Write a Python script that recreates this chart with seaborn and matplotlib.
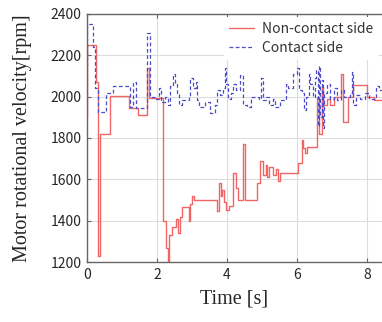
import matplotlib
matplotlib.use("Agg")
import matplotlib.pyplot as plt
import seaborn as sns
import pandas as pd

# Non-contact side (step data)
red_t = [0, 0.01, 0.27, 0.31, 0.37, 0.66, 1.2, 1.45, 1.7, 1.76, 2.17, 2.25, 2.3,
         2.34, 2.43, 2.55, 2.6, 2.65, 2.72, 2.9, 2.94, 3.0, 3.05, 3.7, 3.78, 3.82,
         3.86, 3.92, 3.98, 4.05, 4.17, 4.25, 4.3, 4.45, 4.5, 4.85, 4.95, 5.02, 5.1,
         5.15, 5.2, 5.3, 5.4, 5.45, 5.5, 6.03, 6.13, 6.17, 6.22, 6.28, 6.57, 6.62,
         6.7, 6.75, 6.85, 6.95, 7.05, 7.25, 7.3, 7.45, 7.6, 8.0, 8.2, 8.45]
red_v = [1900, 2250, 2070, 1230, 1820, 2005, 1945, 1910, 2140, 1995, 1400, 1270, 1200,
         1330, 1370, 1410, 1340, 1420, 1465, 1400, 1480, 1520, 1500, 1445, 1580, 1520,
         1550, 1490, 1450, 1470, 1630, 1560, 1500, 1770, 1500, 1580, 1690, 1620, 1670,
         1610, 1660, 1620, 1650, 1590, 1630, 1680, 1790, 1750, 1725, 1757, 2000, 1820,
         2040, 1960, 1990, 1960, 2000, 2110, 1875, 2000, 2055, 2000, 1985, 1985]

# Contact side
blue_t = [0, 0.01, 0.18, 0.24, 0.3, 0.55, 0.75, 1.23, 1.32, 1.4, 1.7, 1.8, 1.97,
          2.05, 2.12, 2.23, 2.3, 2.38, 2.47, 2.52, 2.57, 2.63, 2.7, 2.9, 2.95, 3.02,
          3.1, 3.13, 3.2, 3.37, 3.5, 3.66, 3.72, 3.8, 3.88, 3.93, 3.97, 4.02, 4.1,
          4.18, 4.27, 4.38, 4.45, 4.56, 4.68, 4.9, 4.98, 5.03, 5.1, 5.2, 5.3, 5.38,
          5.5, 5.68, 5.75, 5.88, 6.0, 6.05, 6.13, 6.2, 6.27, 6.33, 6.38, 6.45, 6.5,
          6.55, 6.6, 6.63, 6.66, 6.7, 6.73, 6.77, 6.85, 6.95, 7.05, 7.15, 7.25, 7.35,
          7.5, 7.57, 7.6, 7.68, 7.8, 7.95, 8.05, 8.25, 8.35, 8.45]
blue_v = [2150, 2350, 2240, 2040, 1925, 2020, 2050, 1950, 2070, 1945, 2310, 2000, 1990,
          2040, 1975, 2000, 1960, 2050, 2110, 2060, 2020, 1960, 1985, 2000, 2090, 2040,
          2070, 1985, 1950, 1975, 1920, 1960, 2030, 2010, 2040, 2140, 2060, 1990, 2020,
          2060, 2030, 2105, 1960, 1950, 2000, 1990, 2090, 1985, 2000, 1960, 1990, 1950,
          1985, 2060, 2040, 2110, 2140, 2030, 2020, 1935, 2000, 2110, 2060, 2000, 2090,
          2130, 1860, 2150, 1900, 2080, 1850, 2020, 2060, 1990, 2040, 1985, 2030, 2000,
          2020, 2120, 1960, 2010, 1990, 2020, 1990, 2050, 2030, 2030]

x_ticks = [0, 2, 4, 6, 8]
y_ticks = [1200, 1400, 1600, 1800, 2000, 2200, 2400]

sns.set_style("whitegrid", {"grid.color": "#dcdcdc", "axes.edgecolor": "#666666"})
plt.rcParams['font.family'] = ['Noto Sans CJK JP', 'DejaVu Sans']

fig = plt.figure(figsize=(3.82, 3.22), dpi=100)
ax = fig.add_axes([87 / 382, 60 / 322, 295 / 382, 248 / 322])

red = pd.DataFrame({"t": red_t, "v": red_v})
blue = pd.DataFrame({"t": blue_t, "v": blue_v})
sns.lineplot(data=red, x="t", y="v", ax=ax, color="#f06666", lw=1.0,
             drawstyle="steps-post", estimator=None, label="Non-contact side")
sns.lineplot(data=blue, x="t", y="v", ax=ax, color="#4b4bcc", lw=0.9,
             drawstyle="steps-post", estimator=None, label="Contact side",
             dashes=False, linestyle=(0, (3, 2)))

ax.set_xlim(0, 295 / 35)
ax.set_ylim(1200, 2400)
ax.set_xticks(x_ticks)
ax.set_yticks(y_ticks)
ax.tick_params(direction="in", length=3, labelsize=10, top=True, left=True,
               bottom=True, color="#666666", pad=4)
ax.spines["right"].set_visible(False)
for s in ["left", "bottom", "top"]:
    ax.spines[s].set_linewidth(1.0)

ax.set_xlabel("Time [s]", fontsize=14.5, family="Liberation Serif", labelpad=6)
ax.set_ylabel("Motor rotational velocity[rpm]", fontsize=14.5,
              family="Liberation Serif", labelpad=13)

leg = ax.legend(loc="upper right", bbox_to_anchor=(1.0, 1.0), frameon=True,
                fontsize=10, handlelength=1.8, borderaxespad=0.2,
                labelspacing=0.3, handletextpad=0.6)
leg.get_frame().set_edgecolor("none")
leg.get_frame().set_facecolor("white")
leg.get_frame().set_alpha(1.0)
for txt in leg.get_texts():
    txt.set_color("#333333")

fig.savefig("out.png", dpi=100)
